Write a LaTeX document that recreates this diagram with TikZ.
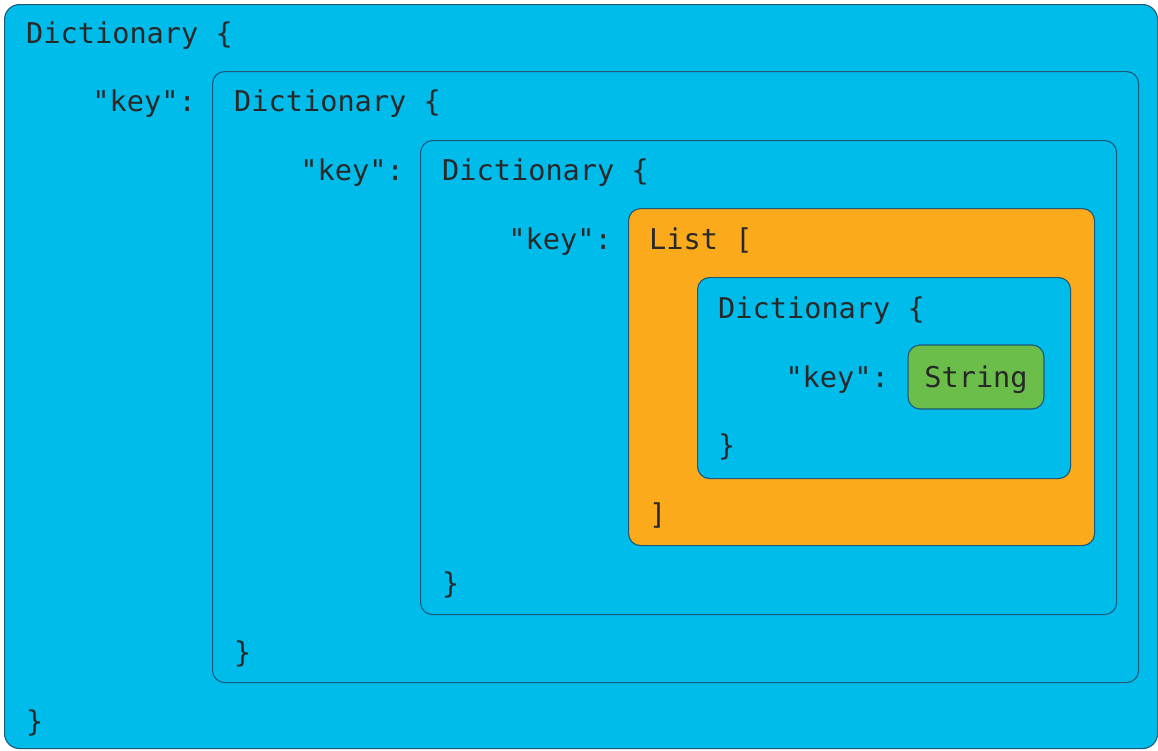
\documentclass[tikz,border=0pt]{standalone}
\usepackage{fontspec}
\setmonofont{DejaVu Sans Mono}
\definecolor{dblue}{RGB}{0,188,235}
\definecolor{dorange}{RGB}{251,170,27}
\definecolor{dgreen}{RGB}{108,190,74}
\definecolor{dborder}{RGB}{28,88,120}
\definecolor{dtext}{RGB}{40,40,40}
\tikzset{
  box/.style={draw=dborder, line width=1.1pt, rounded corners=12pt, anchor=north west, inner sep=0pt},
  code/.style={font=\ttfamily\fontsize{28.6}{30}\selectfont, text=dtext, inner sep=0pt, anchor=base west},
  keytxt/.style={code, anchor=base east},
}
\begin{document}
\begin{tikzpicture}[x=1pt,y=-1pt]
\useasboundingbox (0,0) rectangle (1158,750);
% boxes
\node[box, fill=dblue, rounded corners=15pt, minimum width=1153pt, minimum height=744pt] (b1) at (4,4) {};
\node[box, fill=dblue, minimum width=926pt, minimum height=611pt] (b2) at (212,71) {};
\node[box, fill=dblue, minimum width=696pt, minimum height=474pt] (b3) at (420,140) {};
\node[box, fill=dorange, minimum width=466pt, minimum height=337pt] (b4) at (628,208) {};
\node[box, fill=dblue, minimum width=373pt, minimum height=201pt] (b5) at (697,277) {};
\node[box, fill=dgreen, anchor=center, minimum width=136pt, minimum height=64pt] (str) at (976,377) {};
\node[code, anchor=base] (strtxt) at (976,387) {String};
% texts
\node[code] (t1) at (26,43) {Dictionary \{};
\node[keytxt] (k1) at (196,111.8) {"key":};
\node[code] (t2) at (234,111.8) {Dictionary \{};
\node[keytxt] (k2) at (404,180.6) {"key":};
\node[code] (t3) at (442,180.6) {Dictionary \{};
\node[keytxt] (k3) at (612,249.4) {"key":};
\node[code] (t4) at (649,249.4) {List [};
\node[code] (t5) at (718,318.2) {Dictionary \{};
\node[keytxt] (k5) at (889,387) {"key":};
\node[code] (c5) at (718,455.8) {\}};
\node[code] (c4) at (649,524.6) {]};
\node[code] (c3) at (442,593.4) {\}};
\node[code] (c2) at (234,662.2) {\}};
\node[code] (c1) at (26,731) {\}};
\end{tikzpicture}
\end{document}
